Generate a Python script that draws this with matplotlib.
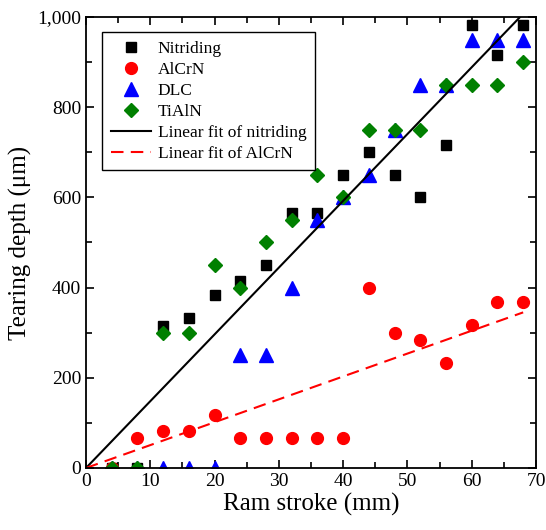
import matplotlib.pyplot as plt
from matplotlib.ticker import MultipleLocator, FuncFormatter

plt.rcParams['font.family'] = ['Liberation Serif', 'DejaVu Serif']
plt.rcParams['mathtext.fontset'] = 'stix'

# ram stroke (mm)
stroke = [4, 8, 12, 16, 20, 24, 28, 32, 36, 40, 44, 48, 52, 56, 60, 64, 68]

# tearing depth (um)
nitriding = [0, 0, 315, 333, 383, 415, 450, 565, 565, 650, 700, 650, 600, 717, 983, 916, 983]
alcrn = [0, 67, 83, 83, 117, 67, 67, 67, 67, 67, 400, 300, 283, 233, 317, 367, 367]
dlc = [0, 0, 0, 0, 0, 250, 250, 400, 550, 600, 650, 750, 850, 850, 950, 950, 950]
tialn = [0, 0, 300, 300, 450, 400, 500, 550, 650, 600, 750, 750, 750, 850, 850, 850, 900]

# linear fits (end points)
fit_x = [0, 68]
fit_nitriding = [0, 1007]
fit_alcrn = [0, 345]

fig = plt.figure(figsize=(5.46, 5.30), dpi=100)
ax = fig.add_axes([0.1575, 0.117, 0.8242, 0.851])

ax.plot(stroke, nitriding, 's', color='black', ms=7, label='Nitriding')
ax.plot(stroke, alcrn, 'o', color='red', ms=8.5, label='AlCrN')
ax.plot(stroke, dlc, '^', color='blue', ms=9.5, label='DLC')
ax.plot(stroke, tialn, 'D', color='green', ms=7.5, label='TiAlN')
ax.plot(fit_x, fit_nitriding, '-', color='black', lw=1.5, label='Linear fit of nitriding')
ax.plot(fit_x, fit_alcrn, '--', color='red', lw=1.5, dashes=(6, 3.5), label='Linear fit of AlCrN')

ax.set_xlim(0, 70)
ax.set_ylim(0, 1000)
ax.xaxis.set_major_locator(MultipleLocator(10))
ax.xaxis.set_minor_locator(MultipleLocator(5))
ax.yaxis.set_major_locator(MultipleLocator(200))
ax.yaxis.set_minor_locator(MultipleLocator(100))
ax.yaxis.set_major_formatter(FuncFormatter(lambda v, p: '{:,.0f}'.format(v)))
ax.tick_params(which='both', direction='in', top=True, right=True, width=1.2,
               labelsize=14, labeltop=False, labelright=False)
ax.tick_params(which='major', length=6)
ax.tick_params(which='minor', length=4)
for s in ax.spines.values():
    s.set_linewidth(1.3)

ax.set_xlabel('Ram stroke (mm)', fontsize=18, labelpad=2)
ax.set_ylabel('Tearing depth (\u03bcm)', fontsize=18, labelpad=4)

leg = ax.legend(loc='upper left', bbox_to_anchor=(0.036, 0.967), borderaxespad=0,
                fontsize=12.5, fancybox=False, edgecolor='black', framealpha=1,
                handlelength=2.3, handletextpad=0.4, labelspacing=0.28,
                borderpad=0.5, numpoints=1)
leg.get_frame().set_linewidth(1.0)

fig.savefig('out.png', dpi=100)
